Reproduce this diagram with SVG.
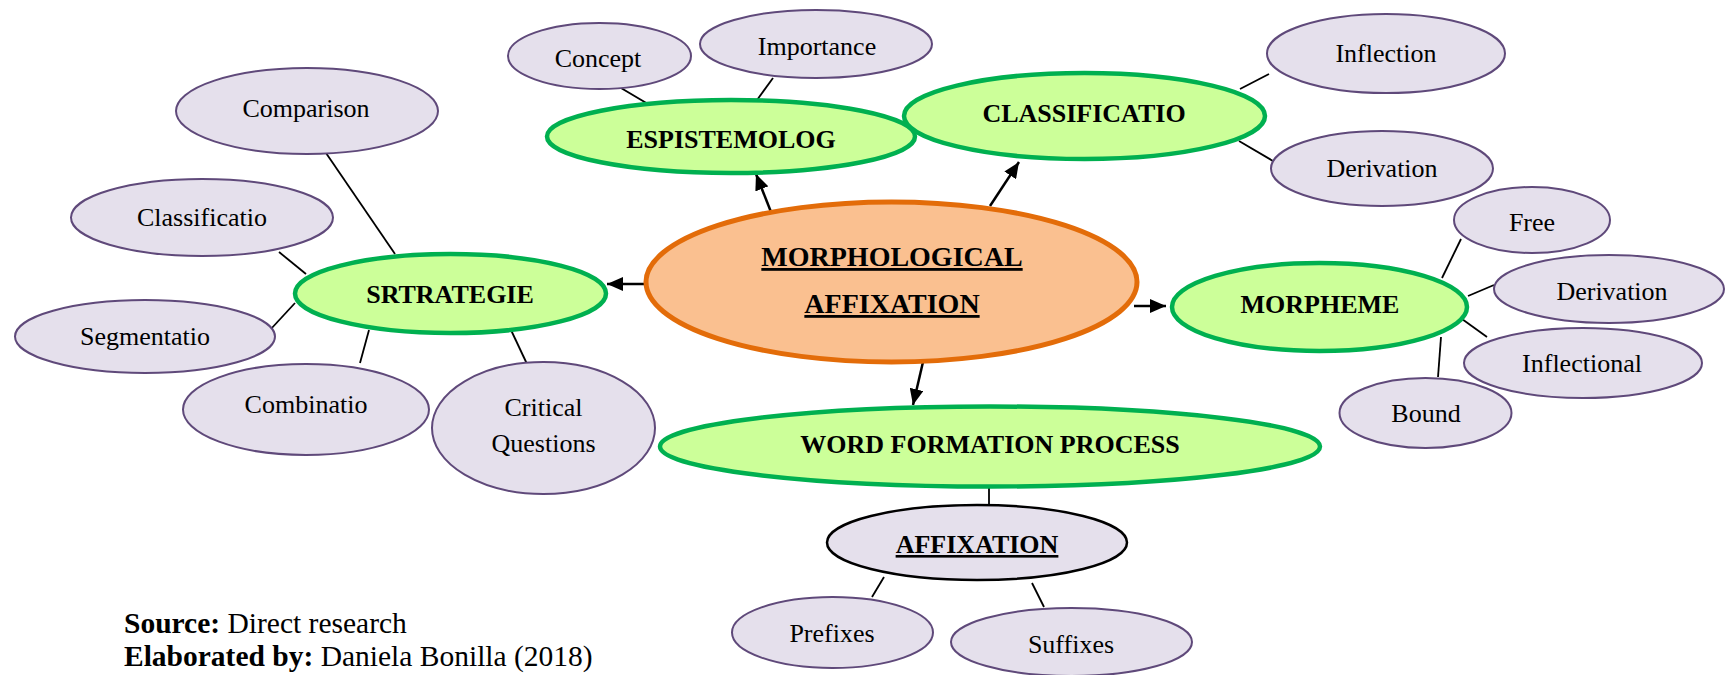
<svg xmlns="http://www.w3.org/2000/svg" width="1725" height="675" viewBox="0 0 1725 675">
  <style>
    text { font-family: "Liberation Serif", "Times New Roman", serif; fill: #000; text-anchor: middle; }
    .t { font-size: 26px; }
    .b { font-size: 26px; font-weight: bold; }
    .c { font-size: 28px; font-weight: bold; text-decoration: underline; }
    .u { text-decoration: underline; }
    .leaf { fill: #E5E0EC; stroke: #5F497A; stroke-width: 2; }
    .main { fill: #CCFF99; stroke: #00B050; stroke-width: 4.5; }
    .core { fill: #FAC090; stroke: #E36C09; stroke-width: 5; }
    .aff { fill: #E5E0EC; stroke: #000; stroke-width: 2.5; }
    .link { stroke: #000; stroke-width: 1.8; fill: none; }
    .arrow { stroke: #000; stroke-width: 2.5; fill: none; marker-end: url(#head); }
    .foot { font-size: 29.5px; text-anchor: start; }
  </style>
  <defs>
    <marker id="head" markerUnits="userSpaceOnUse" markerWidth="16" markerHeight="14" refX="16" refY="7" orient="auto">
      <path d="M0,0 L16,7 L0,14 z" fill="#000"/>
    </marker>
  </defs>
  <rect width="1725" height="675" fill="#fff"/>

  <g id="connectors">
    <line class="arrow" x1="771" y1="212" x2="756" y2="174"/>
    <line class="arrow" x1="990" y1="206" x2="1019" y2="162"/>
    <line class="arrow" x1="647" y1="284" x2="607" y2="284"/>
    <line class="arrow" x1="1134" y1="306" x2="1166" y2="306"/>
    <line class="arrow" x1="923" y1="362" x2="913" y2="405"/>
    <line class="link" x1="326" y1="153" x2="395" y2="254"/>
    <line class="link" x1="279" y1="252" x2="306" y2="274"/>
    <line class="link" x1="295" y1="303" x2="270" y2="330"/>
    <line class="link" x1="369" y1="330" x2="360" y2="363"/>
    <line class="link" x1="511" y1="330" x2="527" y2="364"/>
    <line class="link" x1="621" y1="88" x2="648" y2="104"/>
    <line class="link" x1="773" y1="78" x2="757" y2="100"/>
    <line class="link" x1="1240" y1="89" x2="1269" y2="74"/>
    <line class="link" x1="1239" y1="141" x2="1273" y2="161"/>
    <line class="link" x1="1442" y1="278" x2="1461" y2="239"/>
    <line class="link" x1="1468" y1="296" x2="1494" y2="285"/>
    <line class="link" x1="1462" y1="319" x2="1487" y2="337"/>
    <line class="link" x1="1441" y1="337" x2="1438" y2="377"/>
    <line class="link" x1="989" y1="488" x2="989" y2="507"/>
    <line class="link" x1="884" y1="577" x2="872" y2="597"/>
    <line class="link" x1="1032" y1="583" x2="1044" y2="607"/>
  </g>

  <g id="morphological-affixation">
    <ellipse class="core" cx="891.5" cy="282" rx="245.5" ry="80"/>
    <text class="c" x="892" y="266">MORPHOLOGICAL</text>
    <text class="c" x="892" y="313">AFFIXATION</text>
  </g>

  <g id="espistemolog">
    <ellipse class="main" cx="731" cy="136.5" rx="184" ry="36.5"/>
    <text class="b" x="731" y="148">ESPISTEMOLOG</text>
  </g>
  <g id="concept">
    <ellipse class="leaf" cx="599.5" cy="56" rx="91.5" ry="33"/>
    <text class="t" x="598" y="67">Concept</text>
  </g>
  <g id="importance">
    <ellipse class="leaf" cx="816" cy="44" rx="116" ry="34"/>
    <text class="t" x="817" y="55">Importance</text>
  </g>

  <g id="classificatio-main">
    <ellipse class="main" cx="1084.5" cy="116" rx="180.5" ry="43"/>
    <text class="b" x="1084" y="122">CLASSIFICATIO</text>
  </g>
  <g id="inflection">
    <ellipse class="leaf" cx="1386" cy="53.5" rx="119" ry="39.5"/>
    <text class="t" x="1386" y="62">Inflection</text>
  </g>
  <g id="derivation-class">
    <ellipse class="leaf" cx="1382" cy="168.5" rx="111" ry="37.5"/>
    <text class="t" x="1382" y="177">Derivation</text>
  </g>

  <g id="morpheme">
    <ellipse class="main" cx="1319.5" cy="307" rx="147.5" ry="44"/>
    <text class="b" x="1320" y="313">MORPHEME</text>
  </g>
  <g id="free">
    <ellipse class="leaf" cx="1532" cy="220" rx="78" ry="33"/>
    <text class="t" x="1532" y="231">Free</text>
  </g>
  <g id="derivation-morph">
    <ellipse class="leaf" cx="1609" cy="289" rx="115" ry="34"/>
    <text class="t" x="1612" y="300">Derivation</text>
  </g>
  <g id="inflectional">
    <ellipse class="leaf" cx="1583" cy="363" rx="119" ry="35"/>
    <text class="t" x="1582" y="372">Inflectional</text>
  </g>
  <g id="bound">
    <ellipse class="leaf" cx="1425.5" cy="413" rx="86" ry="35"/>
    <text class="t" x="1426" y="422">Bound</text>
  </g>

  <g id="srtrategie">
    <ellipse class="main" cx="450.5" cy="293.5" rx="155.5" ry="39.5"/>
    <text class="b" x="450" y="303">SRTRATEGIE</text>
  </g>
  <g id="comparison">
    <ellipse class="leaf" cx="307" cy="111" rx="131" ry="43"/>
    <text class="t" x="306" y="117">Comparison</text>
  </g>
  <g id="classificatio-leaf">
    <ellipse class="leaf" cx="202" cy="217.5" rx="131" ry="38.5"/>
    <text class="t" x="202" y="226">Classificatio</text>
  </g>
  <g id="segmentatio">
    <ellipse class="leaf" cx="145" cy="336.5" rx="130" ry="36.5"/>
    <text class="t" x="145" y="345">Segmentatio</text>
  </g>
  <g id="combinatio">
    <ellipse class="leaf" cx="306" cy="409.5" rx="123" ry="45.5"/>
    <text class="t" x="306" y="413">Combinatio</text>
  </g>
  <g id="critical-questions">
    <ellipse class="leaf" cx="543.5" cy="428" rx="111.5" ry="66"/>
    <text class="t" x="543.5" y="416">Critical</text>
    <text class="t" x="543.5" y="452">Questions</text>
  </g>

  <g id="word-formation-process">
    <ellipse class="main" cx="990" cy="446.5" rx="330" ry="40"/>
    <text class="b" x="990" y="453">WORD FORMATION PROCESS</text>
  </g>
  <g id="affixation">
    <ellipse class="aff" cx="977" cy="542.5" rx="150" ry="37.5"/>
    <text class="b u" x="977" y="553">AFFIXATION</text>
  </g>
  <g id="prefixes">
    <ellipse class="leaf" cx="832.5" cy="632.5" rx="100.5" ry="35.5"/>
    <text class="t" x="832" y="642">Prefixes</text>
  </g>
  <g id="suffixes">
    <ellipse class="leaf" cx="1071.5" cy="642" rx="120.5" ry="34"/>
    <text class="t" x="1071" y="653">Suffixes</text>
  </g>

  <g id="footer">
    <text class="foot" x="124" y="633"><tspan font-weight="bold">Source:</tspan> Direct research</text>
    <text class="foot" x="124" y="666"><tspan font-weight="bold">Elaborated by:</tspan> Daniela Bonilla (2018)</text>
  </g>
</svg>
